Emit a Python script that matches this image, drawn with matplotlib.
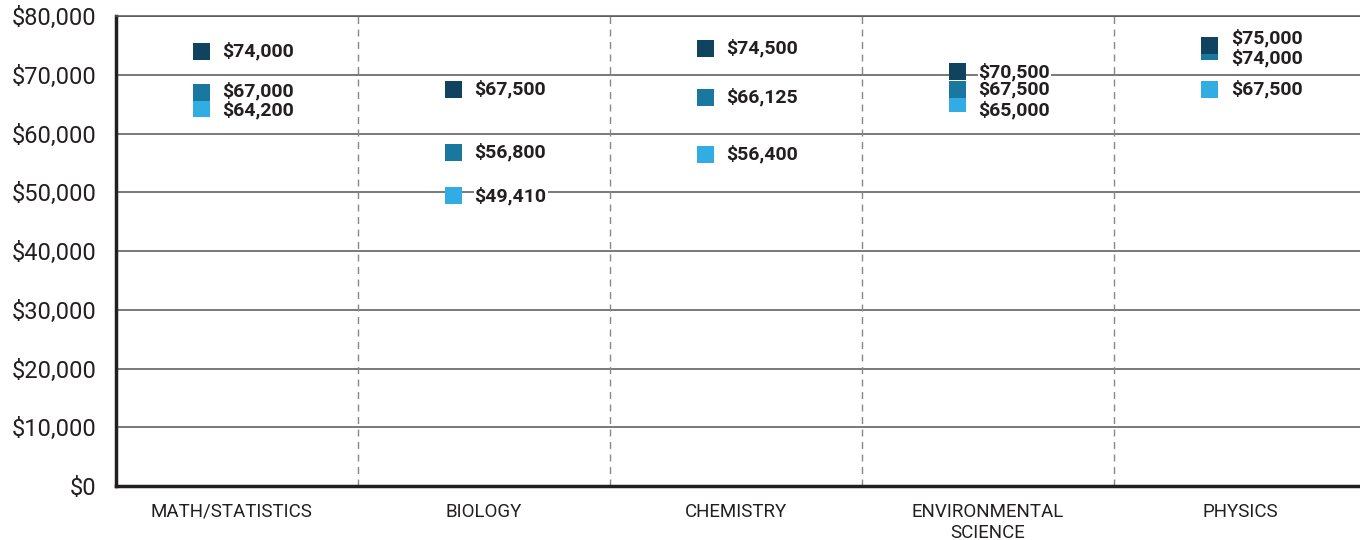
import numpy as np
import matplotlib.pyplot as plt
from matplotlib.ticker import FuncFormatter

# categories and salary values
fields = ["MATH/STATISTICS", "BIOLOGY", "CHEMISTRY", "ENVIRONMENTAL\nSCIENCE", "PHYSICS"]
series_high = [74000, 67500, 74500, 70500, 75000]
series_mid = [67000, 56800, 66125, 67500, 74000]
series_low = [64200, 49410, 56400, 65000, 67500]

colors = {"high": "#10445e", "mid": "#1a77a0", "low": "#31ade3"}
text_color = "#231f20"
font = ["Roboto", "DejaVu Sans"]

# small vertical nudges (points) for labels that would collide
nudges = {
    ("mid", 0): 1, ("low", 0): -1,
    ("low", 3): -4,
    ("high", 4): 5, ("mid", 4): -5,
}

fig = plt.figure(figsize=(13.6, 5.4), dpi=100)
ax = fig.add_axes([116 / 1360, 0.1, 1 - 116 / 1360, 1 - 16 / 540 - 0.1])

x = np.arange(len(fields))
offset = -0.12

ax.set_xlim(-0.46, 4.476)
ax.set_ylim(0, 80000)

# gridlines and dividers
for v in range(10000, 80001, 10000):
    ax.axhline(v, color="#555555", lw=1.1, zorder=1)
for d in x[:-1] + 0.5:
    ax.axvline(d, color="#888888", lw=1, ls=(0, (5, 4)), zorder=1)

for key, vals in [("low", series_low), ("mid", series_mid), ("high", series_high)]:
    ax.scatter(x + offset, vals, marker="s", s=12 ** 2, color=colors[key],
               edgecolors="none", zorder=3)
    for i, v in enumerate(vals):
        ax.annotate(f"${v:,.0f}", (x[i] + offset, v), xytext=(15, nudges.get((key, i), 0)),
                    textcoords="offset points", va="center", ha="left",
                    fontsize=14, fontweight="bold", color=text_color, family=font,
                    bbox=dict(boxstyle="square,pad=0.05", fc="white", ec="none"), zorder=4)

ax.set_yticks(range(0, 80001, 10000))
ax.yaxis.set_major_formatter(FuncFormatter(lambda v, p: f"${v:,.0f}"))
ax.set_xticks(x)
ax.set_xticklabels(fields)
ax.tick_params(axis="y", length=0, pad=14, labelsize=17, labelcolor=text_color)
ax.tick_params(axis="x", length=0, pad=12, labelsize=13.5, labelcolor=text_color)
for lab in ax.get_xticklabels() + ax.get_yticklabels():
    lab.set_family(font)
for lab in ax.get_xticklabels():
    lab.set_linespacing(1.25)

for side in ["left", "bottom"]:
    ax.spines[side].set_linewidth(2.5)
    ax.spines[side].set_color("#231f20")
ax.spines["top"].set_color("#555555")
ax.spines["top"].set_linewidth(1.1)
ax.spines["right"].set_visible(False)

fig.savefig("out.png", dpi=100)
